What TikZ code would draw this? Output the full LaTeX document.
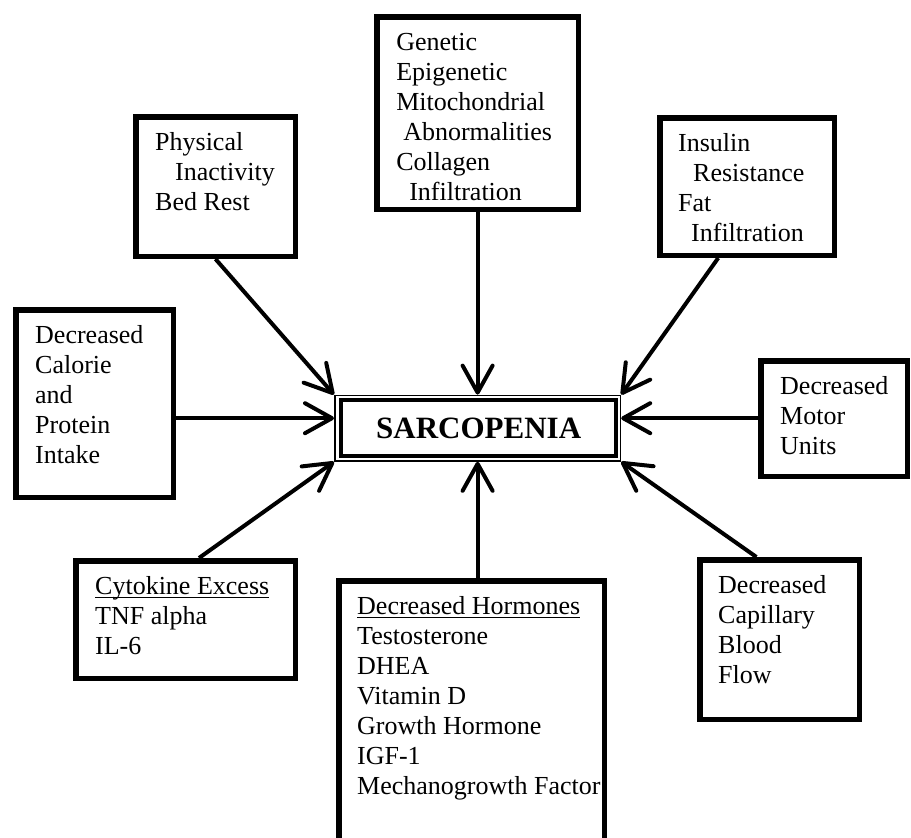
\documentclass[tikz,border=0pt]{standalone}
\usepackage{fontspec}
\setmainfont{Liberation Serif}
\usetikzlibrary{arrows.meta,calc}

% underline sitting close to the baseline
\newcommand{\causeul}[1]{\setbox0\hbox{#1}\rlap{\rule[-3.5pt]{\wd0}{1.3pt}}\box0}

\begin{document}
\begin{tikzpicture}[
    x=1pt,
    y=-1pt,
    >={Straight Barb[length=27pt, width=30pt, round]},
    every node/.style={align=left},
    cause/.style={draw, rectangle, line width=5.5pt, inner sep=0pt},
    causetext/.style={anchor=north west, inner sep=0pt, font=\fontsize{26}{30}\selectfont},
    link/.style={->, line width=4pt}
]

\useasboundingbox (0,0) rectangle (911,838);

% Centre
\node[
    draw,
    line width=1.5pt,
    minimum width=285.7pt,
    minimum height=65.7pt,
    inner sep=0pt
] (sarc) at (477.6,428.2) {};

\node[
    draw,
    line width=4pt,
    minimum width=275.5pt,
    minimum height=55.7pt,
    font=\fontsize{31}{35}\selectfont\bfseries
] (sarcin) at (478.7,428.2) {SARCOPENIA};

\coordinate (sarcW) at ($(sarc.west)+(0,-10)$);
\coordinate (sarcE) at ($(sarc.east)+(0,-10)$);

% Causes
\node[cause, minimum width=159.5pt, minimum height=139.5pt] (phys) at (215.5,186.5) {};
\node[cause, minimum width=201.5pt, minimum height=192.5pt] (gen) at (477.6,113) {};
\node[cause, minimum width=174.5pt, minimum height=137.5pt] (ins) at (747,186.5) {};
\node[cause, minimum width=157.5pt, minimum height=187.5pt] (cal) at (94.5,403.5) {};
\node[cause, minimum width=146.5pt, minimum height=115.5pt] (mot) at (834,418.5) {};
\node[cause, minimum width=219.5pt, minimum height=117.5pt] (cyt) at (185.5,619.5) {};
\node[cause, minimum width=265.5pt, minimum height=261.5pt] (hor) at (471.5,711.5) {};
\node[cause, minimum width=159.5pt, minimum height=159.5pt] (cap) at (779.5,639.5) {};

% Texts
\node[causetext] (physTxt) at ($(phys.north west)+(22,15.5)$)
    {\strut Physical\\\hspace*{20pt}Inactivity\\Bed Rest};
\node[causetext] (genTxt) at ($(gen.north west)+(22,15.5)$)
    {\strut Genetic\\Epigenetic\\Mitochondrial\\\hspace*{7pt}Abnormalities\\Collagen\\\hspace*{13pt}Infiltration};
\node[causetext] (insTxt) at ($(ins.north west)+(21,15.5)$)
    {\strut Insulin\\\hspace*{15pt}Resistance\\Fat\\\hspace*{13pt}Infiltration};
\node[causetext] (calTxt) at ($(cal.north west)+(22,15.5)$)
    {\strut Decreased\\Calorie\\and\\Protein\\Intake};
\node[causetext] (motTxt) at ($(mot.north west)+(22,15.5)$)
    {\strut Decreased\\Motor\\Units};
\node[causetext] (cytTxt) at ($(cyt.north west)+(22,15.5)$)
    {\strut\causeul{Cytokine Excess}\\TNF alpha\\IL-6};
\node[causetext] (horTxt) at ($(hor.north west)+(21,15.5)$)
    {\strut\causeul{Decreased Hormones}\\Testosterone\\DHEA\\Vitamin D\\Growth Hormone\\IGF-1\\Mechanogrowth Factor};
\node[causetext] (capTxt) at ($(cap.north west)+(21,15.5)$)
    {\strut Decreased\\Capillary\\Blood\\Flow};

% Arrows
\draw[link] (phys.south) -- (sarc.north west);
\draw[link] (gen.south) -- (sarc.north);
\draw[link] ($(ins.south west)!0.34!(ins.south east)$) -- (sarc.north east);
\draw[link] (cal.east |- sarcW) -- (sarcW);
\draw[link] (mot.west |- sarcE) -- (sarcE);
\draw[link] ($(cyt.north west)!0.56!(cyt.north east)$) -- (sarc.south west);
\draw[link] (sarc.south |- hor.north) -- (sarc.south);
\draw[link] ($(cap.north west)!0.36!(cap.north east)$) -- (sarc.south east);

\end{tikzpicture}
\end{document}
